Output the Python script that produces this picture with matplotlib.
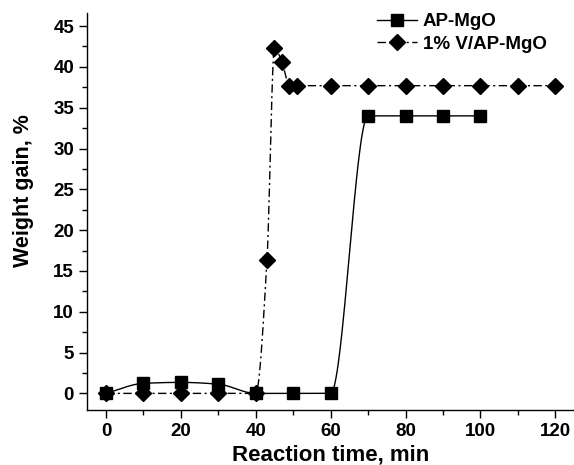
import matplotlib
matplotlib.use("Agg")
import matplotlib.pyplot as plt
import numpy as np
from matplotlib.ticker import MultipleLocator

plt.rcParams['font.family'] = ['Liberation Sans', 'DejaVu Sans']
plt.rcParams['font.weight'] = 'bold'

# data
time_ap = [0, 10, 20, 30, 40, 50, 60, 70, 80, 90, 100]
gain_ap = [0, 1.23, 1.35, 1.13, 0, 0, 0, 34.0, 34.0, 34.0, 34.0]

time_v = [0, 10, 20, 30, 40, 43, 45, 47, 49, 51, 60, 70, 80, 90, 100, 110, 120]
gain_v = [0, 0, 0, 0, 0, 16.3, 42.3, 40.6, 37.7, 37.7, 37.7, 37.7, 37.7, 37.7, 37.7, 37.7, 37.7]

labels = ['AP-MgO', '1% V/AP-MgO']


def pchip(x, y, n=600):
    # monotone cubic through the points, close to the smooth curve in the original
    x = np.asarray(x, float)
    y = np.asarray(y, float)
    h = np.diff(x)
    d = np.diff(y) / h
    m = np.zeros_like(y)
    for k in range(1, len(x) - 1):
        if d[k - 1] * d[k] > 0:
            w1 = 2 * h[k] + h[k - 1]
            w2 = h[k] + 2 * h[k - 1]
            m[k] = (w1 + w2) / (w1 / d[k - 1] + w2 / d[k])
    m[0] = d[0]
    m[-1] = d[-1]
    xs = np.linspace(x[0], x[-1], n)
    idx = np.clip(np.searchsorted(x, xs) - 1, 0, len(x) - 2)
    t = (xs - x[idx]) / h[idx]
    h00 = 2 * t**3 - 3 * t**2 + 1
    h10 = t**3 - 2 * t**2 + t
    h01 = -2 * t**3 + 3 * t**2
    h11 = t**3 - t**2
    ys = h00 * y[idx] + h10 * h[idx] * m[idx] + h01 * y[idx + 1] + h11 * h[idx] * m[idx + 1]
    return xs, ys


fig = plt.figure(figsize=(5.74, 4.65), dpi=100)
ax = fig.add_axes([0.152, 0.118, 0.848, 0.854])

dashdot = (0, (6, 2.5, 1.5, 2.5))

xs, ys = pchip(time_ap, gain_ap)
ax.plot(xs, ys, color='black', lw=1.0)
ax.plot(time_ap, gain_ap, 's', color='black', ms=8.5, zorder=3)

xs, ys = pchip(time_v, gain_v, 1200)
ax.plot(xs, ys, color='black', lw=1.0, linestyle=dashdot)
ax.plot(time_v, gain_v, 'D', color='black', ms=7.8, zorder=3)

# legend proxies
h1, = ax.plot([], [], 's-', color='black', ms=8.5, lw=1.0)
h2, = ax.plot([], [], 'D', color='black', ms=7.8, lw=1.0, linestyle=dashdot)
ax.legend([h1, h2], labels, loc='upper left', bbox_to_anchor=(0.595, 1.0),
          frameon=False, fontsize=13.5, handlelength=2.13, handletextpad=0.32,
          labelspacing=0.28, borderpad=0, borderaxespad=0, numpoints=1)

ax.set_xlim(-5, 125)
ax.set_ylim(-2.05, 46.6)
ax.xaxis.set_major_locator(MultipleLocator(20))
ax.xaxis.set_minor_locator(MultipleLocator(10))
ax.yaxis.set_major_locator(MultipleLocator(5))
ax.yaxis.set_minor_locator(MultipleLocator(2.5))
ax.tick_params(which='major', direction='out', length=6, width=1, labelsize=13.5)
ax.tick_params(which='minor', direction='out', length=3.5, width=1)
for s in ['top', 'right']:
    ax.spines[s].set_visible(False)
for s in ['left', 'bottom']:
    ax.spines[s].set_linewidth(1)

ax.set_xlabel('Reaction time, min', fontsize=16, fontweight='bold', labelpad=3)
ax.set_ylabel('Weight gain, %', fontsize=15.5, fontweight='bold')
ax.yaxis.set_label_coords(-0.11, 0.554)

fig.savefig('out.png', dpi=100)
